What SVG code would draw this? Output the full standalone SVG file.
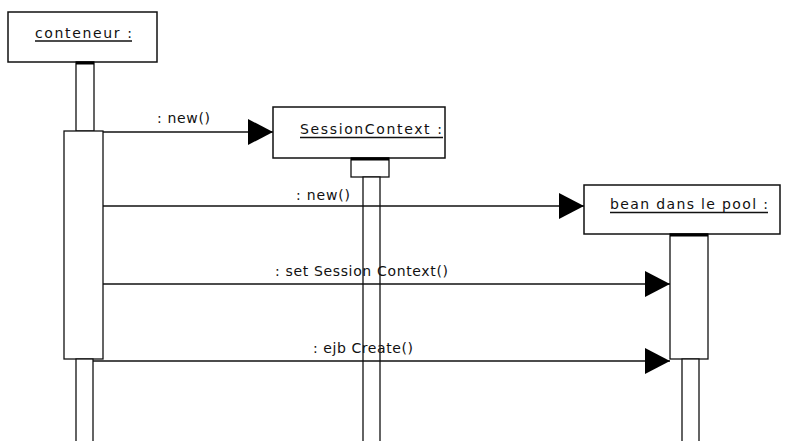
<svg xmlns="http://www.w3.org/2000/svg" width="785" height="441" viewBox="0 0 785 441">
<defs>
<style>
.box{fill:#fff;stroke:#111;stroke-width:1.5}
.life{fill:#fff;stroke:#111;stroke-width:1.3}
.top{stroke:#000;stroke-width:3}
.lbl{font-family:"DejaVu Sans","Liberation Sans",Arial,sans-serif;font-size:14px;fill:#111}
.ul{stroke:#111;stroke-width:1.3}
.msg{stroke:#111;stroke-width:1.5;fill:none}
</style>
<marker id="arr" viewBox="0 0 25 26" refX="25" refY="13" markerWidth="25" markerHeight="26" markerUnits="userSpaceOnUse" orient="auto">
<path d="M0,0 L25,13 L0,26 Z" fill="#000"/>
</marker>
</defs>
<rect width="785" height="441" fill="#fff"/>

<g id="conteneur">
<rect class="box" x="8" y="12" width="149" height="50"/>
<text class="lbl" x="35" y="38" textLength="97" lengthAdjust="spacing">conteneur :</text>
<line class="ul" x1="35" y1="41" x2="132" y2="41"/>
<rect class="life" x="76" y="62" width="18" height="69"/>
<line class="top" x1="76" y1="63" x2="94" y2="63"/>
<rect class="life" x="64" y="131" width="39" height="228"/>
<rect class="life" x="76" y="359" width="17" height="90"/>
</g>

<g id="sessioncontext">
<rect class="box" x="273" y="107" width="172" height="51"/>
<text class="lbl" x="300" y="134" textLength="142" lengthAdjust="spacing">SessionContext :</text>
<line class="ul" x1="300" y1="137.5" x2="443" y2="137.5"/>
<rect class="life" x="351" y="158" width="38" height="19"/>
<line class="top" x1="351" y1="159" x2="389" y2="159"/>
<rect class="life" x="363" y="177" width="17" height="272"/>
</g>

<g id="bean">
<rect class="box" x="584" y="185" width="196" height="49"/>
<text class="lbl" x="610" y="209" textLength="158" lengthAdjust="spacing">bean dans le pool :</text>
<line class="ul" x1="610" y1="212.5" x2="768" y2="212.5"/>
<rect class="life" x="670" y="234" width="38" height="125"/>
<line class="top" x1="670" y1="235" x2="708" y2="235"/>
<rect class="life" x="682" y="359" width="17" height="90"/>
</g>

<g id="connectors">
<line class="msg" x1="103" y1="132" x2="273" y2="132" marker-end="url(#arr)"/>
<text class="lbl" x="157" y="123" textLength="53" lengthAdjust="spacing">: new()</text>
<line class="msg" x1="103" y1="206" x2="584" y2="206" marker-end="url(#arr)"/>
<text class="lbl" x="296" y="200" textLength="54" lengthAdjust="spacing">: new()</text>
<line class="msg" x1="103" y1="284" x2="670" y2="284" marker-end="url(#arr)"/>
<text class="lbl" x="275" y="276" textLength="173" lengthAdjust="spacing">: set Session Context()</text>
<line class="msg" x1="93" y1="361" x2="670" y2="361" marker-end="url(#arr)"/>
<text class="lbl" x="313" y="353" textLength="100" lengthAdjust="spacing">: ejb Create()</text>
</g>
</svg>
